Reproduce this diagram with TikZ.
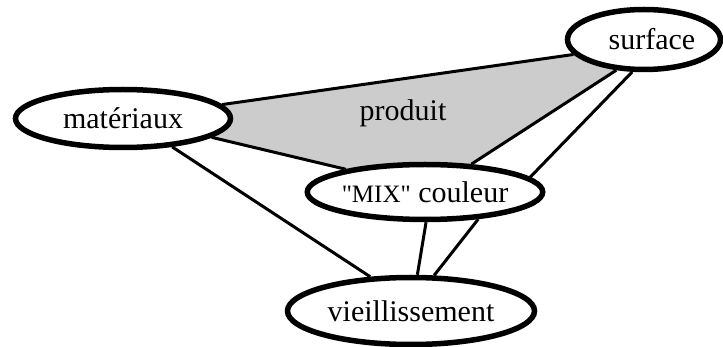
\documentclass[tikz,border=0pt]{standalone}
\usepackage{fontspec}
\setmainfont{Liberation Serif}
\newfontfamily\rawserif{Liberation Serif}
\usetikzlibrary{shapes.geometric}
\pgfdeclarelayer{background}
\pgfsetlayers{background,main}
\tikzset{
  topic/.style={ellipse, draw=black, line width=5.5pt, fill=white, inner sep=0pt,
    font=\fontsize{30}{36}\selectfont},
  link/.style={line width=3pt},
}
\begin{document}
\begin{tikzpicture}[x=1pt,y=-1pt]
\useasboundingbox (0,0) rectangle (723,347);
\begin{scope}
\clip (0,0) rectangle (723,347);
\node[topic, minimum width=215pt, minimum height=58pt] (mat) at (123,118.5) {matériaux};
\node[topic, minimum width=153pt, minimum height=60pt] (surf) at (644,39.5) {\hspace{16pt}surface};
\node[topic, minimum width=225pt, minimum height=55pt] (mix) at (425,192) {{\rawserif\fontsize{25}{30}\selectfont"MIX"} couleur};
\node[topic, minimum width=247pt, minimum height=67pt] (vie) at (411,311) {vieillissement};
\node[font=\fontsize{30}{36}\selectfont, inner sep=0pt] (prod) at (403,113) {produit};
\begin{pgfonlayer}{background}
\fill[black!20] (mat.8) -- (surf.192) -- (surf.center) -- (surf.228) -- (mix.31)
  -- (mix.center) -- (mix.164) -- (mat.348) -- (mat.center) -- cycle;
\draw[link] (mat.8) -- (surf.192);
\draw[link] (mat.348) -- (mix.164);
\draw[link] (surf.228) -- (mix.31);
\draw[link] (surf.250) -- (mix.8);
\draw[link] (mat.330) -- (vie.140);
\draw[link] (mix.272) -- (vie.80);
\draw[link] (mix.333) -- (vie.57);
\end{pgfonlayer}
\end{scope}
\end{tikzpicture}
\end{document}
